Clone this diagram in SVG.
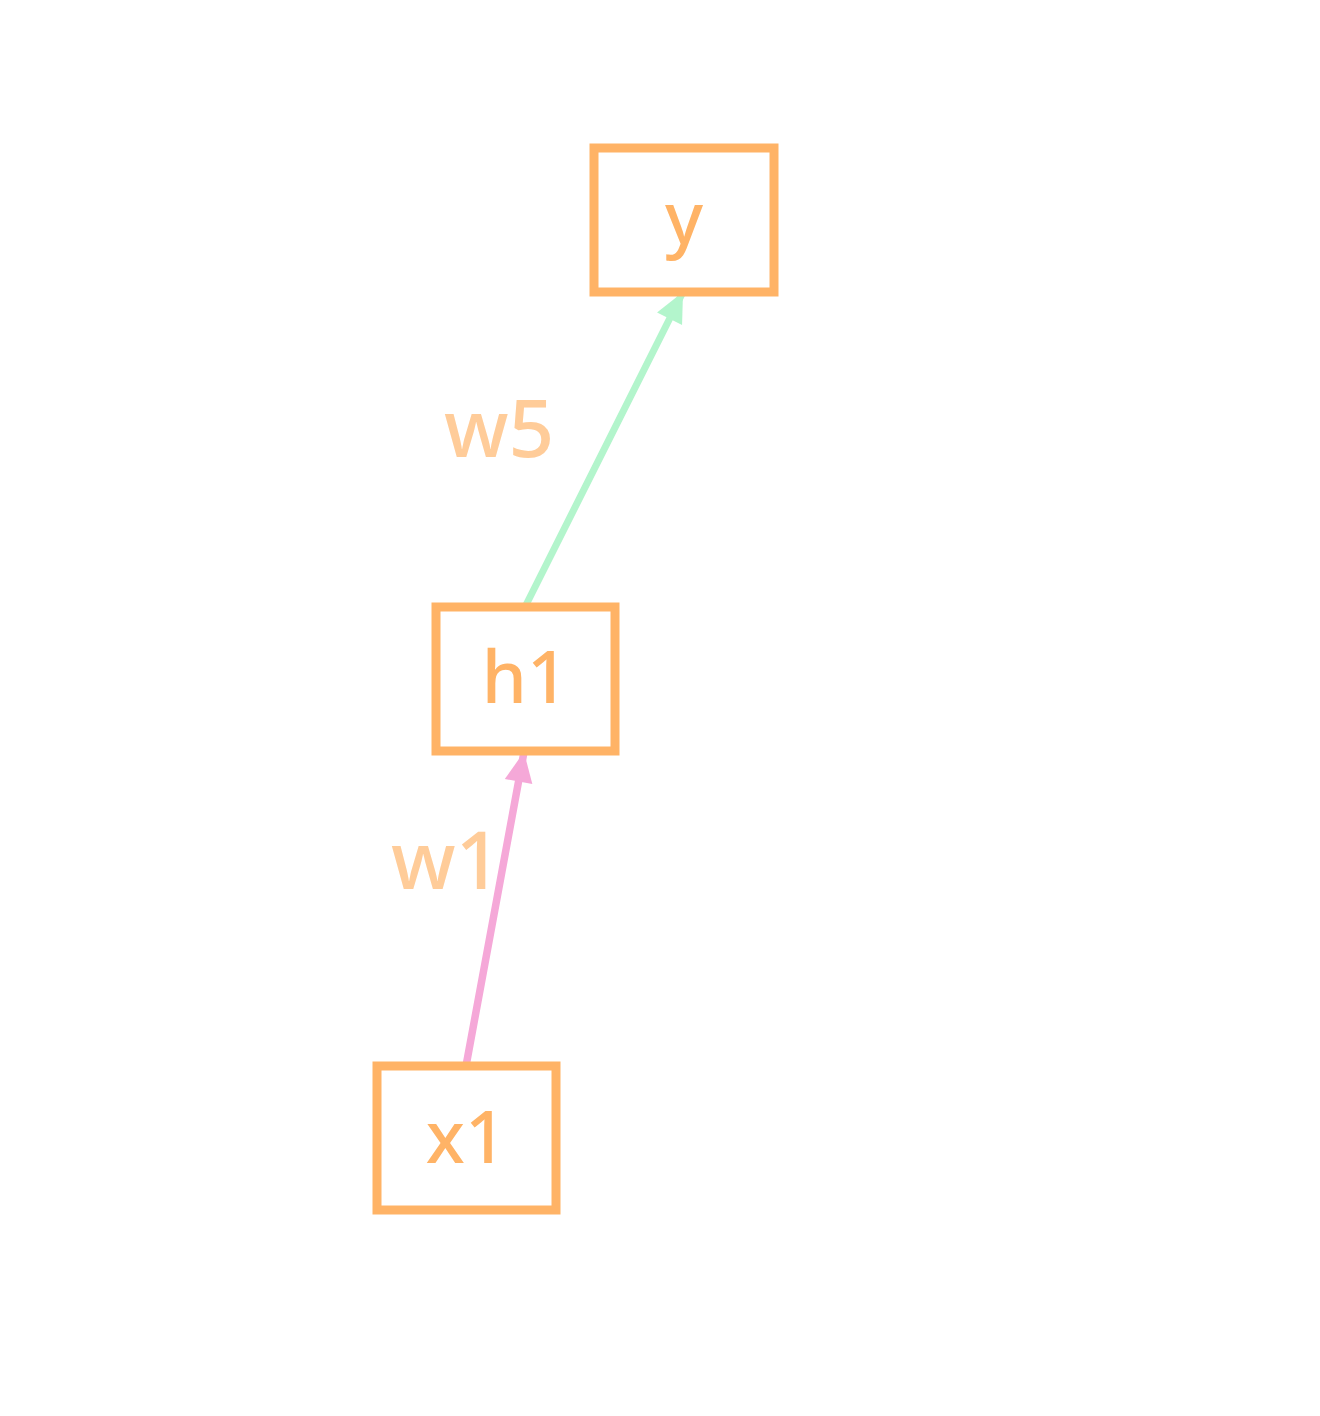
<svg xmlns="http://www.w3.org/2000/svg" width="1320" height="1416" viewBox="0 0 1320 1416">
<style>
.box{fill:#ffffff;stroke:#FFB366;stroke-width:9}
.nt{font-family:"Noto Sans","Open Sans",sans-serif;font-size:72px;font-weight:500;fill:#FFB366;text-anchor:middle}
.lb{font-family:"Noto Sans","Open Sans",sans-serif;font-size:80px;font-weight:500;fill:#FFCC99}
.e{fill:none;stroke-linecap:round}
</style>
<defs>
<marker id="mg" markerUnits="userSpaceOnUse" markerWidth="34" markerHeight="34" viewBox="0 0 34 34" refX="32" refY="17" orient="auto">
<path d="M2,3 L32,17 L2,31 Z" fill="#B3F5CC"/>
</marker>
<marker id="mp" markerUnits="userSpaceOnUse" markerWidth="34" markerHeight="34" viewBox="0 0 34 34" refX="32" refY="17" orient="auto">
<path d="M2,3 L32,17 L2,31 Z" fill="#F5A8D8"/>
</marker>
</defs>
<rect width="1320" height="1416" fill="#ffffff"/>
<g id="connectors">
<line class="e" x1="525" y1="607" x2="683" y2="292" stroke="#B3F5CC" stroke-width="7" marker-end="url(#mg)"/>
<line class="e" x1="466" y1="1066" x2="524" y2="752" stroke="#F5A8D8" stroke-width="7.5" marker-end="url(#mp)"/>
<text class="lb" x="444" y="457">w5</text>
<text class="lb" x="391" y="889">w1</text>
</g>
<g id="node-y">
<rect class="box" x="594" y="148" width="180" height="144"/>
<text class="nt" x="684" y="244">y</text>
</g>
<g id="node-h1">
<rect class="box" x="436" y="607" width="179" height="144"/>
<text class="nt" x="525" y="703">h1</text>
</g>
<g id="node-x1">
<rect class="box" x="377" y="1066" width="179" height="144"/>
<text class="nt" x="466" y="1163">x1</text>
</g>
</svg>
